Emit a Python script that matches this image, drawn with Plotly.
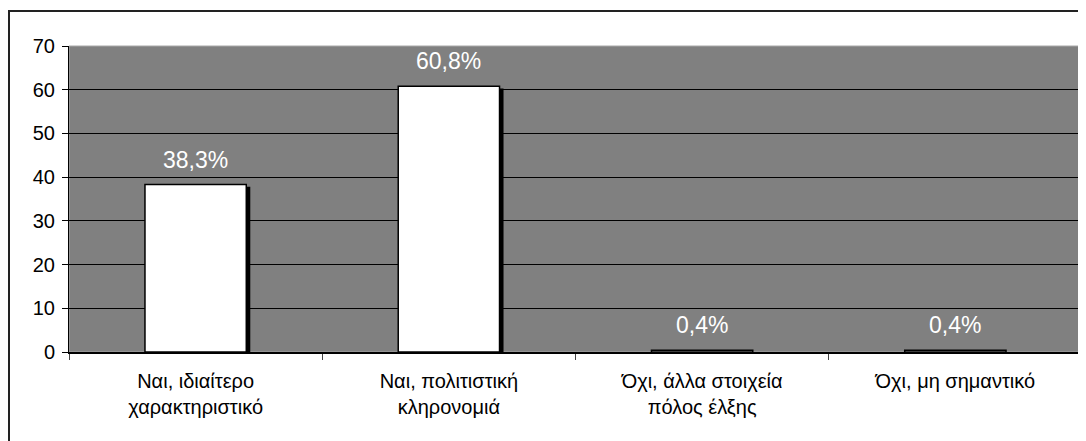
import plotly.graph_objects as go

categories = ["Ναι, ιδιαίτερο<br>χαρακτηριστικό", "Ναι, πολιτιστική<br>κληρονομιά",
              "Όχι, άλλα στοιχεία<br>πόλος έλξης", "Όχι, μη σημαντικό"]
values = [38.3, 60.8, 0.4, 0.4]
value_labels = ["38,3%", "60,8%", "0,4%", "0,4%"]
y_ticks = [0, 10, 20, 30, 40, 50, 60, 70]

# page has an 8px body margin; figure starts at (8, 8)
OFF = 8
W, H = 1086 - OFF, 441 - OFF
ml, mr, mt, mb = 69 - OFF, 4, 46 - OFF, 89
pw = W - ml - mr
ph = H - mt - mb
FONT = "Liberation Sans, Arial, sans-serif"

fig = go.Figure()
# shadow
fig.add_trace(go.Bar(
    x=categories, y=values, width=0.4, offset=-0.2 + 4 / pw * 4,
    base=[-0.5] * len(values),
    marker=dict(color="black", line=dict(width=0)), hoverinfo="skip", showlegend=False,
))
fig.add_trace(go.Bar(
    x=categories, y=values, width=0.4, offset=-0.2,
    marker=dict(color="white", line=dict(color="black", width=1.5)), showlegend=False,
))
for c, v, t in zip(categories, values, value_labels):
    fig.add_annotation(x=c, y=v, text=t, showarrow=False, yanchor="bottom", yshift=10,
                       font=dict(color="white", size=23, family=FONT))

# outer chart frame
fig.add_shape(type="rect", xref="paper", yref="paper",
              x0=(9 - OFF - ml) / pw, x1=1.02, y0=-0.5, y1=(H - mb - (11 - OFF)) / ph,
              line=dict(color="#222", width=2), fillcolor="rgba(0,0,0,0)", layer="below")
# light plot-area border
fig.add_shape(type="rect", xref="paper", yref="paper", x0=0, x1=1, y0=0, y1=1,
              line=dict(color="#a8a8a8", width=1), fillcolor="rgba(0,0,0,0)", layer="below")

fig.update_layout(
    width=W, height=H, margin=dict(l=ml, r=mr, t=mt, b=mb, autoexpand=False),
    plot_bgcolor="#808080", paper_bgcolor="white", barmode="overlay", bargap=0.6,
    font=dict(family=FONT, size=20, color="black"),
)
fig.update_yaxes(range=[0, 70], tickvals=y_ticks, showgrid=True, gridcolor="black", gridwidth=1,
                 ticks="outside", ticklen=6, tickcolor="black", showline=True, linecolor="black",
                 linewidth=1, zeroline=False, tickfont=dict(size=20), automargin=False,
                 ticklabelstandoff=3)
fig.update_xaxes(type="category", tickson="boundaries", ticks="outside", ticklen=6,
                 tickcolor="#444", showline=True, linecolor="black", linewidth=1.5,
                 tickfont=dict(size=20), range=[-0.5, 3.5], automargin=False,
                 ticklabelstandoff=10)

fig.write_html("out.html")
